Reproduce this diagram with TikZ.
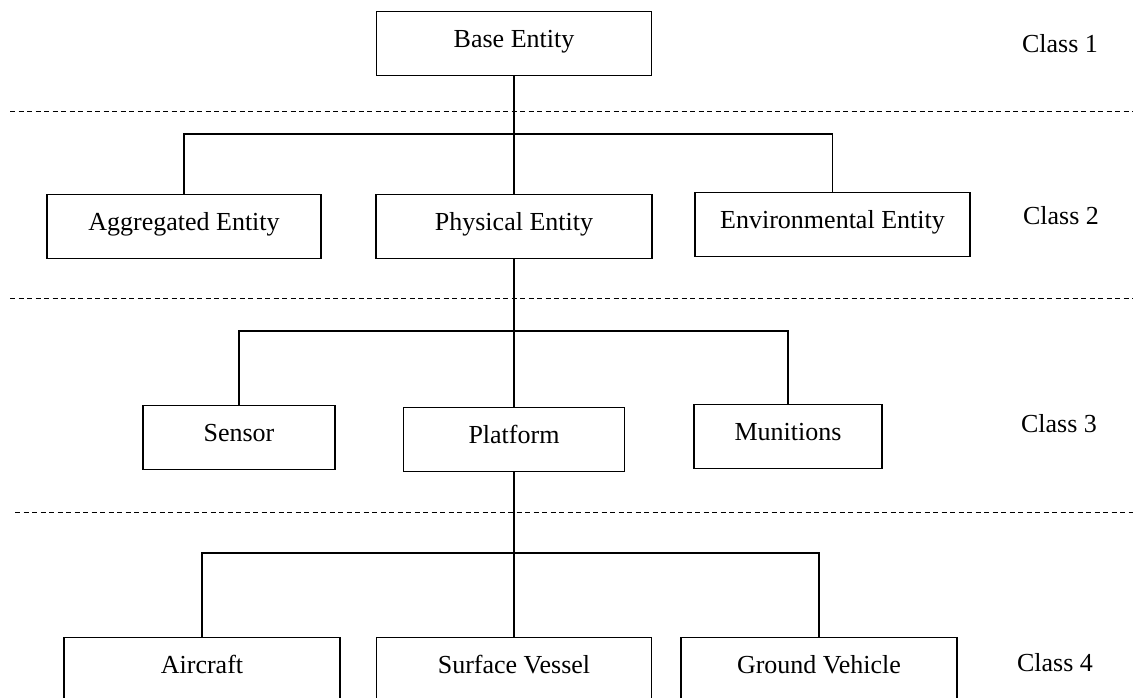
\documentclass[tikz,border=0pt]{standalone}
\usepackage{fontspec}
\setmainfont{Liberation Serif}
\begin{document}
\begin{tikzpicture}[x=1pt,y=-1pt,
  entbox/.style={draw=black, line width=1.4pt, inner sep=0pt, anchor=north,
    text height=36pt, text depth=28pt, align=center, font=\fontsize{26}{30}\selectfont},
  classlbl/.style={anchor=base, inner sep=0pt, font=\fontsize{26}{30}\selectfont},
  link/.style={draw=black, line width=1.5pt},
  sep/.style={draw=black, line width=0.9pt, dash pattern=on 5pt off 3.5pt}]
\useasboundingbox (0,0) rectangle (1133,698);
\clip (0,0) rectangle (1133,698);
% separators
\draw[sep] (10,111) -- (1133,111);
\draw[sep] (10,298) -- (1133,298);
\draw[sep] (15,512) -- (1133,512);
% boxes
\node[entbox, minimum width=275pt] (base) at (514,11) {Base Entity};
\node[entbox, minimum width=274pt] (agg) at (184,194) {Aggregated Entity};
\node[entbox, minimum width=276pt] (phys) at (514,194) {Physical Entity};
\node[entbox, minimum width=275pt] (env) at (832.5,192) {Environmental Entity};
\node[entbox, minimum width=192pt] (sensor) at (239,405) {Sensor};
\node[entbox, minimum width=221pt] (platform) at (514,407) {Platform};
\node[entbox, minimum width=188pt] (munitions) at (788,404) {Munitions};
\node[entbox, minimum width=276pt] (aircraft) at (202,637) {Aircraft};
\node[entbox, minimum width=275pt] (surface) at (514,637) {Surface Vessel};
\node[entbox, minimum width=276pt] (ground) at (819,637) {Ground Vehicle};
% class labels
\node[classlbl] (c1) at (1060,53) {Class 1};
\node[classlbl] (c2) at (1061,224) {Class 2};
\node[classlbl] (c3) at (1059,432) {Class 3};
\node[classlbl] (c4) at (1055,671) {Class 4};
% connectors
\coordinate (j1) at (514,134);
\coordinate (j2) at (514,331);
\coordinate (j3) at (514,553);
\draw[link] (base.south) -- (j1);
\draw[link] (j1) -| (agg.north);
\draw[link] (j1) -| (env.north);
\draw[link] (j1) -- (phys.north);
\draw[link] (phys.south) -- (j2);
\draw[link] (j2) -| (sensor.north);
\draw[link] (j2) -| (munitions.north);
\draw[link] (j2) -- (platform.north);
\draw[link] (platform.south) -- (j3);
\draw[link] (j3) -| (aircraft.north);
\draw[link] (j3) -| (ground.north);
\draw[link] (j3) -- (surface.north);
\end{tikzpicture}
\end{document}
